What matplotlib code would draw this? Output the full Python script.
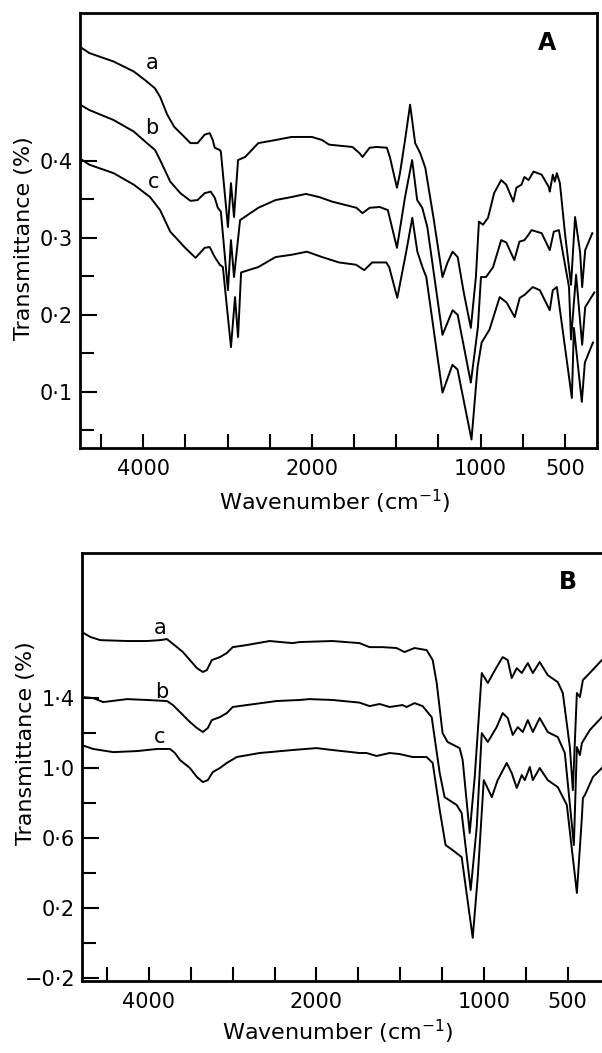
import numpy as np
import matplotlib
matplotlib.use("Agg")
import matplotlib.pyplot as plt
from matplotlib.ticker import FixedLocator, FixedFormatter, NullFormatter

plt.rcParams['font.family'] = ['DejaVu Sans']

# ---------------- Panel A data ----------------
A_a_wn = [4750, 4640, 4352, 4112, 3980, 3860, 3800, 3716, 3632, 3512,
          3440, 3356, 3272, 3212, 3176, 3152, 3092, 3080, 2996, 2960,
          2924, 2876, 2792, 2636, 2432, 2240, 2000, 1940, 1898, 1760,
          1718, 1700, 1658, 1616, 1556, 1538, 1496, 1478, 1448, 1418,
          1388, 1358, 1328, 1280, 1226, 1196, 1166, 1136, 1100, 1058,
          1028, 1010, 986, 956, 920, 878, 848, 806, 788, 758,
          740, 716, 686, 638, 596, 590, 572, 560, 548, 530,
          500, 464, 440, 410, 398, 380, 338]
A_a_T = [0.548, 0.540, 0.529, 0.516, 0.505, 0.494, 0.483, 0.460, 0.444, 0.431,
         0.423, 0.423, 0.434, 0.436, 0.427, 0.417, 0.414, 0.412, 0.314, 0.371,
         0.327, 0.401, 0.405, 0.423, 0.427, 0.431, 0.431, 0.427, 0.421, 0.418,
         0.410, 0.405, 0.417, 0.418, 0.417, 0.405, 0.365, 0.384, 0.427, 0.473,
         0.423, 0.410, 0.391, 0.327, 0.249, 0.268, 0.282, 0.275, 0.229, 0.183,
         0.249, 0.321, 0.317, 0.326, 0.358, 0.375, 0.369, 0.347, 0.365, 0.369,
         0.379, 0.375, 0.386, 0.382, 0.366, 0.360, 0.382, 0.373, 0.384, 0.371,
         0.306, 0.239, 0.327, 0.281, 0.236, 0.284, 0.306]

A_b_wn = [4750, 4640, 4352, 4112, 3956, 3860, 3800, 3680, 3560, 3440,
          3356, 3272, 3200, 3152, 3116, 3080, 2996, 2960, 2924, 2852,
          2636, 2432, 2240, 2072, 1958, 1880, 1736, 1700, 1658, 1598,
          1550, 1496, 1448, 1406, 1376, 1346, 1316, 1226, 1166, 1136,
          1058, 1016, 998, 968, 926, 878, 848, 800, 770, 740,
          716, 698, 638, 590, 566, 536, 476, 464, 434, 398,
          380, 326]
A_b_T = [0.473, 0.466, 0.453, 0.438, 0.423, 0.414, 0.401, 0.373, 0.358, 0.348,
         0.349, 0.358, 0.360, 0.352, 0.339, 0.334, 0.232, 0.297, 0.249, 0.323,
         0.339, 0.349, 0.353, 0.357, 0.353, 0.347, 0.339, 0.332, 0.339, 0.340,
         0.336, 0.287, 0.353, 0.401, 0.349, 0.339, 0.314, 0.174, 0.206, 0.200,
         0.112, 0.184, 0.249, 0.249, 0.262, 0.297, 0.294, 0.271, 0.295, 0.297,
         0.304, 0.310, 0.306, 0.284, 0.308, 0.310, 0.236, 0.168, 0.252, 0.161,
         0.210, 0.229]

A_c_wn = [4750, 4640, 4352, 4112, 3920, 3800, 3680, 3512, 3380, 3272,
          3212, 3152, 3092, 3056, 2960, 2912, 2876, 2840, 2636, 2432,
          2240, 2060, 1940, 1839, 1738, 1690, 1643, 1560, 1542, 1494,
          1441, 1405, 1375, 1345, 1322, 1226, 1167, 1137, 1054, 1018,
          994, 977, 947, 887, 846, 798, 768, 739, 691, 649,
          590, 572, 548, 459, 447, 400, 382, 334]
A_c_T = [0.403, 0.395, 0.384, 0.369, 0.353, 0.336, 0.308, 0.288, 0.274, 0.287,
         0.288, 0.275, 0.265, 0.262, 0.158, 0.223, 0.171, 0.255, 0.262, 0.275,
         0.278, 0.282, 0.275, 0.268, 0.265, 0.258, 0.268, 0.268, 0.262, 0.222,
         0.282, 0.326, 0.282, 0.262, 0.249, 0.099, 0.135, 0.129, 0.038, 0.132,
         0.164, 0.170, 0.181, 0.223, 0.216, 0.197, 0.222, 0.226, 0.236, 0.232,
         0.206, 0.232, 0.236, 0.092, 0.183, 0.087, 0.138, 0.164]

# ---------------- Panel B data ----------------
B_a_wn = [4800, 4700, 4582, 4261, 4023, 3868, 3785, 3726, 3666, 3595,
          3511, 3428, 3357, 3309, 3250, 3154, 3071, 3000, 2833, 2559,
          2286, 2202, 1904, 1743, 1683, 1605, 1522, 1474, 1414, 1342,
          1306, 1282, 1247, 1217, 1145, 1127, 1085, 1055, 1013, 977,
          924, 888, 858, 834, 804, 774, 738, 708, 667, 619,
          559, 529, 487, 469, 445, 427, 409, 368, 296]
B_a_T = [1.777, 1.749, 1.731, 1.726, 1.726, 1.731, 1.737, 1.714, 1.691, 1.663,
         1.617, 1.571, 1.549, 1.560, 1.617, 1.634, 1.657, 1.691, 1.703, 1.726,
         1.714, 1.720, 1.726, 1.714, 1.691, 1.691, 1.686, 1.663, 1.686, 1.674,
         1.617, 1.486, 1.200, 1.149, 1.114, 1.046, 0.629, 0.949, 1.543, 1.486,
         1.577, 1.634, 1.617, 1.514, 1.571, 1.543, 1.600, 1.543, 1.606, 1.531,
         1.491, 1.429, 1.120, 0.874, 1.429, 1.406, 1.503, 1.543, 1.617]

B_b_wn = [4800, 4666, 4547, 4261, 4023, 3785, 3714, 3630, 3511, 3428,
          3357, 3297, 3250, 3154, 3071, 3000, 2833, 2476, 2202, 2083,
          1904, 1743, 1683, 1623, 1563, 1486, 1462, 1414, 1366, 1312,
          1264, 1235, 1163, 1133, 1079, 1043, 1013, 977, 924, 888,
          858, 828, 798, 768, 738, 708, 667, 619, 559, 517,
          463, 445, 427, 415, 368, 296]
B_b_T = [1.406, 1.400, 1.377, 1.394, 1.389, 1.383, 1.360, 1.320, 1.263, 1.229,
         1.206, 1.229, 1.274, 1.291, 1.314, 1.349, 1.360, 1.383, 1.389, 1.394,
         1.389, 1.374, 1.354, 1.366, 1.349, 1.360, 1.349, 1.371, 1.354, 1.291,
         0.971, 0.834, 0.789, 0.743, 0.303, 0.663, 1.200, 1.149, 1.234, 1.314,
         1.286, 1.189, 1.234, 1.206, 1.274, 1.206, 1.286, 1.206, 1.177, 1.086,
         0.560, 1.120, 1.074, 1.143, 1.217, 1.291]

B_c_wn = [4800, 4666, 4428, 4142, 3904, 3749, 3690, 3630, 3511, 3428,
          3357, 3297, 3238, 3154, 3071, 2952, 2678, 2286, 2000, 1904,
          1743, 1701, 1641, 1563, 1504, 1426, 1342, 1306, 1264, 1229,
          1187, 1133, 1067, 1037, 1001, 953, 918, 864, 834, 804,
          774, 756, 726, 708, 667, 619, 559, 505, 445, 415,
          409, 397, 349, 296]
B_c_T = [1.131, 1.109, 1.091, 1.097, 1.109, 1.109, 1.086, 1.046, 1.000, 0.949,
         0.920, 0.931, 0.977, 1.000, 1.029, 1.063, 1.086, 1.103, 1.114, 1.103,
         1.086, 1.086, 1.069, 1.086, 1.080, 1.063, 1.063, 1.029, 0.760, 0.560,
         0.531, 0.491, 0.030, 0.377, 0.931, 0.834, 0.931, 1.029, 0.971, 0.886,
         0.960, 0.931, 1.006, 0.931, 1.000, 0.931, 0.891, 0.789, 0.286, 0.720,
         0.829, 0.846, 0.949, 1.000]

x_major = [4000, 2000, 1000, 500]
x_major_labels = ['4000', '2000', '1000', '500']
x_minor = [4500, 3500, 3000, 2500, 1750, 1500, 1250, 750]

A_y_major = [0.1, 0.2, 0.3, 0.4]
A_y_labels = ['0·1', '0·2', '0·3', '0·4']
A_y_minor = [0.05, 0.15, 0.25, 0.35]

B_y_major = [-0.2, 0.2, 0.6, 1.0, 1.4]
B_y_labels = ['\u22120·2', '0·2', '0·6', '1·0', '1·4']
B_y_minor = [0.0, 0.4, 0.8, 1.2]

curve_labels = ['a', 'b', 'c']


def fwd(w):
    w = np.asarray(w, dtype=float)
    return np.where(w > 2000, 2000 + (w - 2000) / 2.0, w)


def inv(u):
    u = np.asarray(u, dtype=float)
    return np.where(u > 2000, 2000 + 2.0 * (u - 2000), u)


W, H = 602, 1053
fig = plt.figure(figsize=(W / 100, H / 100), dpi=100)
axA = fig.add_axes([80 / W, 1 - 448 / H, 517 / W, 435 / H])
axB = fig.add_axes([82 / W, 1 - 981 / H, 520 / W, 428 / H])

LW = 1.4
FS = 15


def style(ax, xlim, ylim, ymaj, ylab, ymin):
    ax.set_xscale('function', functions=(fwd, inv))
    ax.set_xlim(*xlim)
    ax.set_ylim(*ylim)
    ax.xaxis.set_major_locator(FixedLocator(x_major))
    ax.xaxis.set_major_formatter(FixedFormatter(x_major_labels))
    ax.xaxis.set_minor_locator(FixedLocator(x_minor))
    ax.xaxis.set_minor_formatter(NullFormatter())
    ax.yaxis.set_major_locator(FixedLocator(ymaj))
    ax.yaxis.set_major_formatter(FixedFormatter(ylab))
    ax.yaxis.set_minor_locator(FixedLocator(ymin))
    ax.yaxis.set_minor_formatter(NullFormatter())
    ax.tick_params(axis='x', which='both', direction='in', length=10, width=1.5,
                   labelsize=FS, pad=8, top=False)
    ax.tick_params(axis='y', which='major', direction='in', length=12, width=1.5,
                   labelsize=FS, pad=5, right=False)
    ax.tick_params(axis='y', which='minor', direction='in', length=10, width=1.5,
                   right=False)
    for s in ax.spines.values():
        s.set_linewidth(2.0)


style(axA, (4750, 310), (0.027, 0.592), A_y_major, A_y_labels, A_y_minor)
style(axB, (4800, 295), (-0.217, 2.229), B_y_major, B_y_labels, B_y_minor)
axB.spines['right'].set_visible(False)

for wn, t in [(A_a_wn, A_a_T), (A_b_wn, A_b_T), (A_c_wn, A_c_T)]:
    axA.plot(wn, t, color='black', lw=LW)
for wn, t in [(B_a_wn, B_a_T), (B_b_wn, B_b_T), (B_c_wn, B_c_T)]:
    axB.plot(wn, t, color='black', lw=LW)

# curve labels
for lab, (x, y) in zip(curve_labels, [(3896, 0.527), (3896, 0.443), (3872, 0.373)]):
    axA.text(x, y, lab, fontsize=15, ha='center', va='center')
for lab, (x, y) in zip(curve_labels, [(3868, 1.80), (3844, 1.434), (3868, 1.177)]):
    axB.text(x, y, lab, fontsize=15, ha='center', va='center')

# panel letters
fig.text(547 / W, 1 - 43 / H, 'A', fontsize=17, fontweight='bold', ha='center', va='center')
fig.text(568 / W, 1 - 582 / H, 'B', fontsize=17, fontweight='bold', ha='center', va='center')

# axis labels
fig.text(24 / W, 1 - 238 / H, 'Transmittance (%)', rotation=90, fontsize=16,
         ha='center', va='center')
fig.text(26 / W, 1 - 743 / H, 'Transmittance (%)', rotation=90, fontsize=16,
         ha='center', va='center')
fig.text(335 / W, 1 - 502 / H, 'Wavenumber (cm$^{-1}$)', fontsize=16,
         ha='center', va='center')
fig.text(338 / W, 1 - 1032 / H, 'Wavenumber (cm$^{-1}$)', fontsize=16,
         ha='center', va='center')

fig.savefig('out.png', dpi=100)
